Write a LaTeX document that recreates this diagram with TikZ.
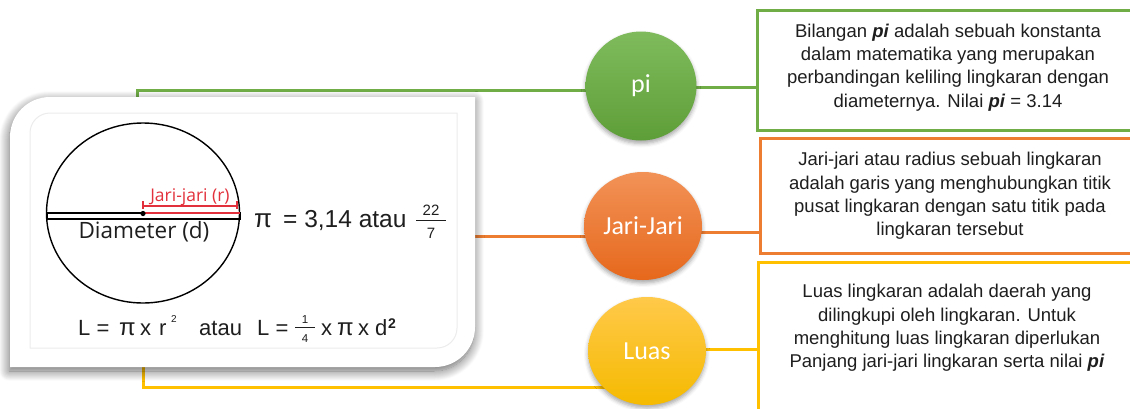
\documentclass[tikz,border=0pt]{standalone}
\usepackage{fontspec}
\setmainfont{Liberation Sans}
\newfontfamily\opensans{Open Sans}
\newfontfamily\carlito{Carlito}
\usetikzlibrary{shapes.geometric,shadows.blur,calc}

\definecolor{cgreen}{HTML}{70AD47}
\definecolor{corange}{HTML}{ED7D31}
\definecolor{cyellow}{HTML}{FFC000}
\definecolor{cred}{HTML}{E2313C}
\definecolor{ctext}{HTML}{1E1E1E}
\definecolor{cpanel}{HTML}{ECECEC}
\definecolor{greentop}{HTML}{7FBB5C}
\definecolor{greenbot}{HTML}{5E9E38}
\definecolor{orangetop}{HTML}{F29257}
\definecolor{orangebot}{HTML}{E6681C}
\definecolor{yellowtop}{HTML}{FFC94A}
\definecolor{yellowbot}{HTML}{F5BA00}

\tikzset{
  link/.style={line width=3pt},
  infobox/.style={draw=#1, line width=3pt, fill=white, rectangle, inner sep=0pt},
  infotext/.style={text=ctext, align=center, font=\fontsize{18.5}{23.3}\selectfont},
  topic/.style={ellipse, inner sep=0pt, text=white,
    font=\carlito\fontsize{26}{28}\selectfont,
    blur shadow={shadow xshift=0pt, shadow yshift=-3pt, shadow blur radius=4pt, shadow opacity=35}},
  formula/.style={anchor=base west, inner sep=0pt, text=ctext, font=\fontsize{22}{25}\selectfont},
  small/.style={anchor=base, inner sep=0pt, text=ctext},
}

\begin{document}
\begin{tikzpicture}[x=1pt,y=-1pt]
\useasboundingbox (0,0) rectangle (1130,408);

% description boxes on the right
\node[infobox=cgreen,  minimum width=383pt, minimum height=120pt] (gbox) at (948.5,70) {};
\node[infobox=corange, minimum width=380pt, minimum height=115pt] (obox) at (950,195.5) {};
\node[infobox=cyellow, minimum width=382pt, minimum height=178pt] (ybox) at (949,351) {};

\node[infotext] (gtext) at (948,67.5) {Bilangan \textbf{\textit{pi}} adalah sebuah konstanta\\
  dalam matematika yang merupakan\\
  perbandingan keliling lingkaran dengan\\
  diameternya. Nilai \textbf{\textit{pi}} = 3.14};
\node[infotext] (otext) at (950,196) {Jari-jari atau radius sebuah lingkaran\\
  adalah garis yang menghubungkan titik\\
  pusat lingkaran dengan satu titik pada\\
  lingkaran tersebut};
\node[infotext] (ytext) at (947,328) {Luas lingkaran adalah daerah yang\\
  dilingkupi oleh lingkaran. Untuk\\
  menghitung luas lingkaran diperlukan\\
  Panjang jari-jari lingkaran serta nilai \textbf{\textit{pi}}};

% centres of the topic circles
\path (641,86)  coordinate (picen);
\path (643,226) coordinate (jaricen);
\path (647,351) coordinate (luascen);

% connectors
\coordinate (gstart) at (137,120);
\coordinate (ostart) at (470,236);
\coordinate (ystart) at (143,350);
\draw[link, cgreen]  (gstart) |- ([yshift=-4pt]picen);
\draw[link, corange] (ostart) -- (ostart -| jaricen);
\draw[link, cyellow] (ystart) |- ([yshift=-36pt]luascen);

\coordinate (pe) at (690,87);
\coordinate (je) at (695,232);
\coordinate (le) at (700,349);
\draw[link, cgreen]  (pe) -- (pe -| gbox.west);
\draw[link, corange] (je) -- (je -| obox.west);
\draw[link, cyellow] (le) -- (le -| ybox.west);

\node[topic, minimum width=111pt, minimum height=109pt,
      top color=greentop, bottom color=greenbot] (pi) at (picen) {\raisebox{3pt}{pi}};
\node[topic, minimum width=118pt, minimum height=108pt,
      top color=orangetop, bottom color=orangebot] (jari) at (jaricen) {Jari-Jari};
\node[topic, minimum width=118pt, minimum height=108pt,
      top color=yellowtop, bottom color=yellowbot] (luas) at (luascen) {Luas};

% white card with two rounded corners
\path[fill=white, blur shadow={shadow xshift=-1pt, shadow yshift=-4pt,
      shadow blur radius=10pt, shadow opacity=60, shadow blur steps=14}]
  (10,367) -- (10,137) arc[start angle=180, end angle=270, radius=40]
  -- (475,97) -- (475,327) arc[start angle=0, end angle=90, radius=40]
  -- cycle;
\draw[cpanel, line width=1pt]
  (30,348) -- (30,133) arc[start angle=180, end angle=270, radius=20]
  -- (457,113) -- (457,328) arc[start angle=0, end angle=90, radius=20]
  -- cycle;

% circle with diameter and radius
\draw[line width=1.4pt] (143,213) ellipse[x radius=96.5, y radius=90];
\draw[line width=1.1pt] (47,213) rectangle (240,219);
\draw[cred, line width=1.5pt] (143,213) -- (240,213);
\draw[cred, line width=1.2pt] (143,201) -- (143,209) (143,206) -- (237,206) (237,201) -- (237,209);
\fill (143,213.5) circle[radius=2.6];
\node[anchor=base, inner sep=0pt, text=cred, font=\opensans\fontsize{17.5}{20}\selectfont]
  (rlabel) at (190,201) {Jari-jari (r)};
\node[anchor=base, inner sep=0pt, text=ctext, font=\opensans\fontsize{22.5}{25}\selectfont]
  (dlabel) at (144,238) {Diameter (d)};

% value of pi
\node[formula, font=\fontsize{26}{28}\selectfont] (pisym) at (254,227) {π};
\node[formula, font=\fontsize{24.5}{27}\selectfont] (pival) at (283,227) {= 3,14 atau};
\node[small, font=\fontsize{15}{16}\selectfont] (num) at (431,215) {22};
\node[small, font=\fontsize{15}{16}\selectfont] (den) at (431,238) {7};
\draw[ctext, line width=1.3pt] (416,220.5) -- (446,220.5);

% area formulas
\node[formula] (f1) at (78,335) {L =};
\node[formula, font=\fontsize{24}{26}\selectfont] (f2) at (119,335) {π};
\node[formula] (f3) at (140,335) {x};
\node[formula] (f4) at (159,335) {r};
\node[formula, font=\fontsize{10}{12}\selectfont] (f5) at (171,322) {2};
\node[formula] (f6) at (199,335) {atau};
\node[formula] (f7) at (257,335) {L =};
\draw[ctext, line width=1pt] (295,327) -- (315,327);
\node[small, font=\fontsize{11.5}{12}\selectfont] (f8) at (305,323) {1};
\node[small, font=\fontsize{11.5}{12}\selectfont] (f9) at (305,342.5) {4};
\node[formula] (f10) at (321,335) {x};
\node[formula, font=\fontsize{24}{26}\selectfont] (f11) at (337,335) {π};
\node[formula] (f12) at (358,335) {x};
\node[formula] (f13) at (375,335) {d};
\node[formula, font=\bfseries\fontsize{14}{15}\selectfont] (f14) at (388,328) {2};
\end{tikzpicture}
\end{document}
